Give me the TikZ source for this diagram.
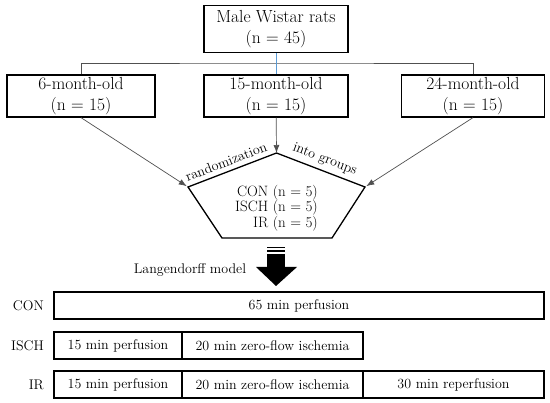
\documentclass[tikz,border=0pt]{standalone}
\usepackage{fontspec}
\usetikzlibrary{positioning,arrows.meta}
\definecolor{linkblue}{RGB}{91,155,213}
\definecolor{linkgray}{RGB}{80,80,80}

\begin{document}
\begin{tikzpicture}[x=1pt,y=-1pt,
    box/.style={draw,line width=1.3pt,align=center,inner sep=0pt,
      minimum height=42pt,font=\fontsize{17.5}{21}\selectfont},
    phase/.style={draw,line width=1.2pt,outer sep=0pt,inner sep=0pt,
      minimum height=27pt,font=\fontsize{14}{16}\selectfont},
    rowlabel/.style={font=\fontsize{14}{16}\selectfont,inner sep=0pt},
    edgelabel/.style={font=\fontsize{14}{16}\selectfont,sloped,above=1.5pt},
    link/.style={draw=linkgray,line width=0.7pt},
    tip/.style={link,-{Latex[length=8pt,width=6pt]}}]
  \useasboundingbox (0,0) rectangle (550,403);

  % animals and age groups
  \node[box,minimum width=144pt,minimum height=47pt] (rats) at (276,29)
    {Male Wistar rats\\(n = 45)};
  \node[box,minimum width=148pt] (m6)  at (81,96)  {6-month-old\\(n = 15)};
  \node[box,minimum width=144pt] (m15) at (276,96) {15-month-old\\(n = 15)};
  \node[box,minimum width=143pt] (m24) at (473,96) {24-month-old\\(n = 15)};
  \coordinate (split) at (276,63);
  \draw[link] (m6.north) |- (split) -| (m24.north);
  \draw[link,draw=linkblue] (rats) -- (m15);

  % randomization pentagon
  \coordinate (apex) at (276.5,153);
  \coordinate (pl) at (188,187);
  \coordinate (pr) at (365,187);
  \coordinate (br) at (332,238);
  \coordinate (bl) at (222,238);
  \draw[line width=1.3pt] (apex) -- (pr) -- (br) -- (bl) -- (pl) -- cycle;
  \path (pl) -- (apex) node[edgelabel,pos=0.47] {randomization};
  \path (apex) -- (pr) node[edgelabel,pos=0.5] {into groups};
  \node[anchor=east,align=right,inner sep=0pt,
    font=\fontsize{15}{15.5}\selectfont] (groups) at (318,208)
    {CON (n = 5)\\ISCH (n = 5)\\IR (n = 5)};
  \draw[tip,shorten >=1.5pt] (m6.south) -- (pl);
  \draw[tip] (m15) -- (apex);
  \draw[tip,shorten >=1.5pt] (m24.south) -- (pr);

  % Langendorff arrow
  \fill (267,247) rectangle (285,248.5);
  \fill (267,250.5) rectangle (285,252);
  \fill (267,254) rectangle (285,267.5);
  \fill (256,267) -- (297,267) -- (276,286) -- cycle;
  \node[font=\fontsize{14}{16}\selectfont] (model) at (190,270) {Langendorff model};

  % perfusion protocols
  \node[phase,minimum width=490pt,anchor=north west] (con) at (54,292) {65 min perfusion};
  \node[phase,minimum width=128pt,anchor=north west] (isch1) at (54,332) {15 min perfusion};
  \node[phase,minimum width=181pt,right=0pt of isch1] (isch2) {20 min zero-flow ischemia};
  \node[phase,minimum width=128pt,anchor=north west] (ir1) at (54,371) {15 min perfusion};
  \node[phase,minimum width=181pt,right=0pt of ir1] (ir2) {20 min zero-flow ischemia};
  \node[phase,minimum width=181pt,right=0pt of ir2] (ir3) {30 min reperfusion};
  \node[rowlabel,left=10pt of con] (lcon) {CON};
  \node[rowlabel,left=10pt of isch1] (lisch) {ISCH};
  \node[rowlabel,left=10pt of ir1] (lir) {IR};
\end{tikzpicture}
\end{document}
